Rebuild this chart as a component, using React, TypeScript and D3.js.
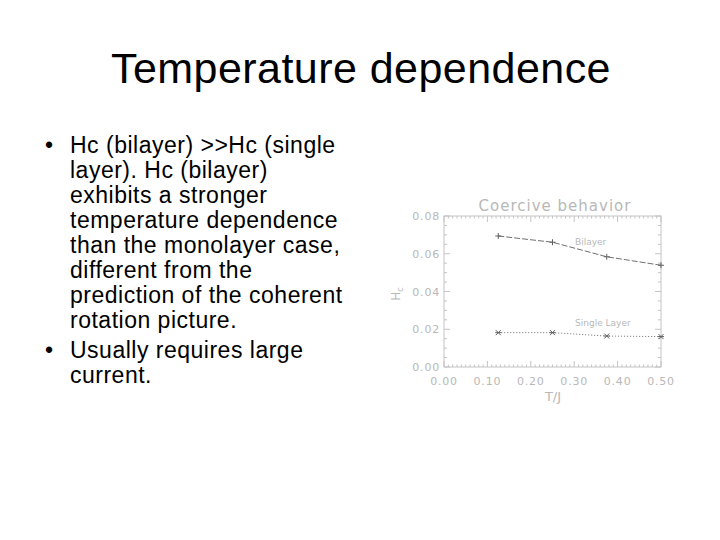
import React, { useEffect, useRef } from 'react';
import * as d3 from 'd3';

// values
const temps = [0.125, 0.25, 0.375, 0.5];
const bilayer = [0.0694, 0.0661, 0.0584, 0.0539];
const singleLayer = [0.0182, 0.0182, 0.0164, 0.0161];
const xTicks = [0, 0.1, 0.2, 0.3, 0.4, 0.5];
const yTicks = [0, 0.02, 0.04, 0.06, 0.08];

const slideTitle = 'Temperature dependence';
const bullets = [
  ['Hc (bilayer) >>Hc (single', 'layer). Hc (bilayer)', 'exhibits a stronger', 'temperature dependence',
    'than the monolayer case,', 'different from the', 'prediction of the coherent', 'rotation picture.'],
  ['Usually requires large', 'current.'],
];

export default function App() {
  const svgRef = useRef<SVGSVGElement>(null);

  useEffect(() => {
    if (!svgRef.current) return;
    const svg = d3.select(svgRef.current);
    svg.selectAll('*').remove();

    svg.append('rect').attr('width', 720).attr('height', 540).attr('fill', '#fff');

    // slide title + bullets
    svg.append('text')
      .attr('x', 361).attr('y', 83)
      .attr('text-anchor', 'middle')
      .style('font-family', '"Liberation Sans", Arial, sans-serif')
      .style('font-size', '43px')
      .style('letter-spacing', '0.45px')
      .attr('fill', '#000')
      .text(slideTitle);

    let baseline = 153;
    bullets.forEach((para, pi) => {
      if (pi > 0) baseline += 5;
      svg.append('text')
        .attr('x', 49).attr('y', baseline)
        .attr('text-anchor', 'middle')
        .style('font-family', '"Liberation Sans", Arial, sans-serif')
        .style('font-size', '23px')
        .text('•');
      para.forEach(line => {
        svg.append('text')
          .attr('x', 70).attr('y', baseline)
          .style('font-family', '"Liberation Sans", Arial, sans-serif')
          .style('font-size', '23px')
          .style('letter-spacing', '0.5px')
          .attr('fill', '#000')
          .text(line);
        baseline += 25;
      });
    });

    // chart
    const left = 444, right = 661, top = 216, bottom = 367;
    const x = d3.scaleLinear().domain([0, 0.5]).range([left, right]);
    const y = d3.scaleLinear().domain([0, 0.08]).range([bottom, top]);
    const axisColor = '#c4c4c4';
    const labelColor = '#b8b8b8';
    const chartFont = '"DejaVu Sans", sans-serif';

    const g = svg.append('g');

    g.append('rect')
      .attr('x', left).attr('y', top)
      .attr('width', right - left).attr('height', bottom - top)
      .attr('fill', 'none').attr('stroke', axisColor).attr('stroke-width', 1);

    // y ticks on left and right (inward)
    d3.range(0, 0.0801, 0.005).forEach((v, i) => {
      const len = i % 4 === 0 ? 6 : 3;
      const yy = y(v);
      g.append('line').attr('x1', left).attr('x2', left + len).attr('y1', yy).attr('y2', yy)
        .attr('stroke', axisColor);
      g.append('line').attr('x1', right).attr('x2', right - len).attr('y1', yy).attr('y2', yy)
        .attr('stroke', axisColor);
    });

    // x ticks on top and bottom (inward)
    d3.range(0, 0.5001, 0.01).forEach((v, i) => {
      const len = i % 10 === 0 ? 6 : 2.5;
      const xx = x(v);
      g.append('line').attr('x1', xx).attr('x2', xx).attr('y1', bottom).attr('y2', bottom - len)
        .attr('stroke', axisColor);
      g.append('line').attr('x1', xx).attr('x2', xx).attr('y1', top).attr('y2', top + len)
        .attr('stroke', axisColor);
    });

    g.selectAll('.ylab')
      .data(yTicks)
      .join('text')
      .attr('x', left - 4)
      .attr('y', d => y(d) + 4)
      .attr('text-anchor', 'end')
      .style('font-family', chartFont)
      .style('font-size', '11px')
      .style('letter-spacing', '0.8px')
      .attr('fill', labelColor)
      .text(d => d.toFixed(2));

    g.selectAll('.xlab')
      .data(xTicks)
      .join('text')
      .attr('x', d => x(d))
      .attr('y', 385)
      .attr('text-anchor', 'middle')
      .style('font-family', chartFont)
      .style('font-size', '11px')
      .style('letter-spacing', '0.8px')
      .attr('fill', labelColor)
      .text(d => d.toFixed(2));

    g.append('text')
      .attr('x', 555).attr('y', 211)
      .attr('text-anchor', 'middle')
      .style('font-family', chartFont)
      .style('font-size', '15px')
      .style('letter-spacing', '1px')
      .attr('fill', labelColor)
      .text('Coercive behavior');

    g.append('text')
      .attr('x', 553).attr('y', 401)
      .attr('text-anchor', 'middle')
      .style('font-family', chartFont)
      .style('font-size', '13px')
      .attr('fill', labelColor)
      .text('T/J');

    const yl = g.append('text')
      .attr('transform', 'translate(400,294) rotate(-90)')
      .attr('text-anchor', 'middle')
      .style('font-family', chartFont)
      .style('font-size', '12px')
      .attr('fill', labelColor);
    yl.append('tspan').text('H');
    yl.append('tspan').attr('dy', 3).style('font-size', '8px').text('c');

    const line = d3.line<number>()
      .x((_, i) => x(temps[i]))
      .y(d => y(d));

    g.append('path')
      .attr('d', line(bilayer))
      .attr('fill', 'none')
      .attr('stroke', '#707070')
      .attr('stroke-width', 1)
      .attr('stroke-dasharray', '6,2');

    g.append('path')
      .attr('d', line(singleLayer))
      .attr('fill', 'none')
      .attr('stroke', '#707070')
      .attr('stroke-width', 1)
      .attr('stroke-dasharray', '1,2');

    // plus markers (bilayer)
    bilayer.forEach((v, i) => {
      const cx = x(temps[i]), cy = y(v);
      g.append('path')
        .attr('d', `M${cx - 3},${cy}H${cx + 3}M${cx},${cy - 3}V${cy + 3}`)
        .attr('stroke', '#606060').attr('stroke-width', 1);
    });

    // asterisk markers (single layer)
    singleLayer.forEach((v, i) => {
      const cx = x(temps[i]), cy = y(v);
      g.append('path')
        .attr('d', `M${cx - 2.5},${cy - 2.5}L${cx + 2.5},${cy + 2.5}M${cx - 2.5},${cy + 2.5}L${cx + 2.5},${cy - 2.5}M${cx - 3},${cy}H${cx + 3}`)
        .attr('stroke', '#606060').attr('stroke-width', 1);
    });

    g.append('text')
      .attr('x', 575).attr('y', 245)
      .style('font-family', chartFont)
      .style('font-size', '9px')
      .attr('fill', labelColor)
      .text('Bilayer');

    g.append('text')
      .attr('x', 575).attr('y', 326)
      .style('font-family', chartFont)
      .style('font-size', '9px')
      .attr('fill', labelColor)
      .text('Single Layer');
  }, []);

  return (
    <svg ref={svgRef} width={720} height={540}
      style={{ position: 'absolute', left: 0, top: 0, display: 'block' }} />
  );
}
